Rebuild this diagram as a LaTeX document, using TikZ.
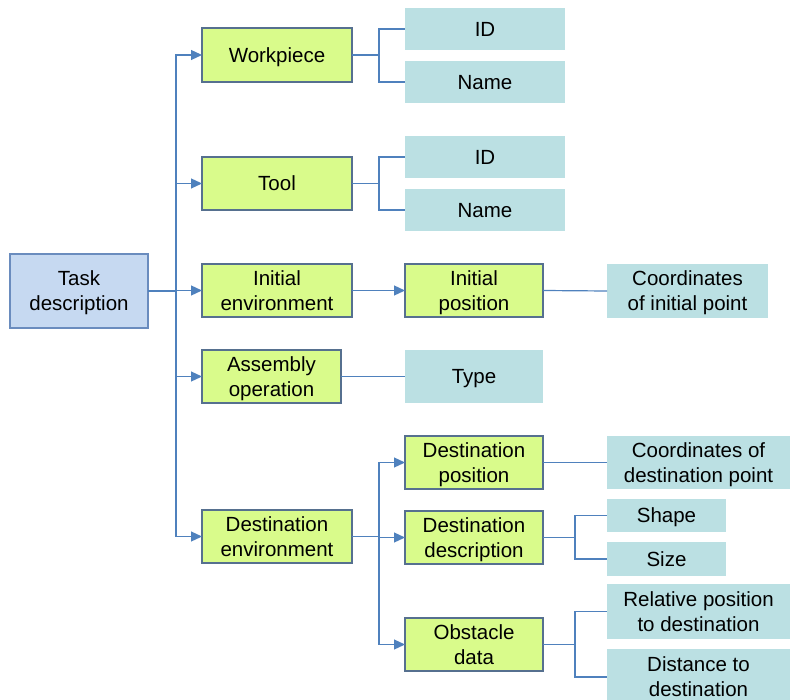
\documentclass[tikz,border=0pt]{standalone}
\usepackage{fontspec}
\setmainfont{Liberation Sans}
\usetikzlibrary{arrows.meta}
\definecolor{linkblue}{HTML}{4F81BD}
\definecolor{greenfill}{HTML}{D9FB8B}
\definecolor{greenedge}{HTML}{56708F}
\definecolor{taskfill}{HTML}{C6D9F1}
\definecolor{taskedge}{HTML}{6A8CBE}
\definecolor{leaffill}{HTML}{BBE0E3}
\begin{document}
\begin{tikzpicture}[x=1pt,y=-1pt,
  every node/.style={font=\fontsize{20.5}{25}\selectfont, align=center, inner sep=0pt, outer sep=0pt, text depth=-1.5pt},
  taskbox/.style={draw=taskedge, fill=taskfill, line width=1.3pt},
  greenbox/.style={draw=greenedge, fill=greenfill, line width=1.3pt},
  leafbox/.style={fill=leaffill},
  conn/.style={draw=linkblue, line width=1.2pt},
  arr/.style={conn, -{Triangle[length=11pt,width=10pt]}}
]
\useasboundingbox (0,0) rectangle (791,700);
\clip (0,0) rectangle (791,700);

% root
\node[taskbox, minimum width=138pt, minimum height=74pt] (task) at (79,291) {Task\\description};

% first level
\node[greenbox, minimum width=150pt, minimum height=54pt] (wp) at (277,55) {Workpiece};
\node[greenbox, minimum width=150pt, minimum height=53pt] (tool) at (277,183.5) {Tool};
\node[greenbox, minimum width=150pt, minimum height=53pt] (ienv) at (277,290.5) {Initial\\environment};
\node[greenbox, minimum width=139pt, minimum height=53pt] (asm) at (271.5,376.5) {Assembly\\operation};
\node[greenbox, minimum width=150pt, minimum height=53pt] (denv) at (277,536.5) {Destination\\environment};

% second level
\node[leafbox, minimum width=160pt, minimum height=42pt] (id1) at (485,29) {ID};
\node[leafbox, minimum width=160pt, minimum height=42pt] (name1) at (485,82) {Name};
\node[leafbox, minimum width=160pt, minimum height=42pt] (id2) at (485,157) {ID};
\node[leafbox, minimum width=160pt, minimum height=42pt] (name2) at (485,210) {Name};
\node[greenbox, minimum width=138pt, minimum height=53pt] (ipos) at (474,290.5) {Initial\\position};
\node[leafbox, minimum width=138pt, minimum height=53pt] (type) at (474,376.5) {Type};
\node[greenbox, minimum width=138pt, minimum height=53pt] (dpos) at (474,462.5) {Destination\\position};
\node[greenbox, minimum width=138pt, minimum height=53pt] (ddesc) at (474,537.5) {Destination\\description};
\node[greenbox, minimum width=138pt, minimum height=53pt] (obs) at (474,644.5) {Obstacle\\data};

% third level
\node[leafbox, minimum width=161pt, minimum height=54pt] (coordi) at (687.5,291) {Coordinates\\of initial point};
\node[leafbox, minimum width=183pt, minimum height=53pt] (coordd) at (698.5,462.5) {Coordinates of\\destination point};
\node[leafbox, minimum width=119pt, minimum height=33pt] (shape) at (666.5,515.5) {Shape};
\node[leafbox, minimum width=119pt, minimum height=34pt] (size) at (666.5,559) {Size};
\node[leafbox, minimum width=183pt, minimum height=55pt] (rel) at (698.5,611.5) {Relative position\\to destination};
\node[leafbox, minimum width=183pt, minimum height=56pt] (dist) at (698.5,677) {Distance to\\destination};

% trunk from the root
\foreach \t in {wp,tool,ienv,asm,denv}
  \draw[arr] (task.east) -- ++(28,0) |- (\t.west);

% workpiece and tool attributes
\foreach \t in {id1,name1} \draw[conn] (wp.east) -- ++(27,0) |- (\t.west);
\foreach \t in {id2,name2} \draw[conn] (tool.east) -- ++(27,0) |- (\t.west);

% initial environment and assembly
\draw[arr] (ienv.east) -- (ipos.west);
\draw[conn] (ipos.east) -- (coordi.west);
\draw[conn] (asm.east) -- (asm.east -| type.west);

% destination environment
\foreach \t in {dpos,ddesc,obs}
  \draw[arr] (denv.east) -- ++(27,0) |- (\t.west);
\draw[conn] (dpos.east) -- (dpos.east -| coordd.west);
\foreach \t in {shape,size} \draw[conn] (ddesc.east) -- ++(32,0) |- (\t.west);
\foreach \t in {rel,dist} \draw[conn] (obs.east) -- ++(32,0) |- (\t.west);
\end{tikzpicture}
\end{document}
